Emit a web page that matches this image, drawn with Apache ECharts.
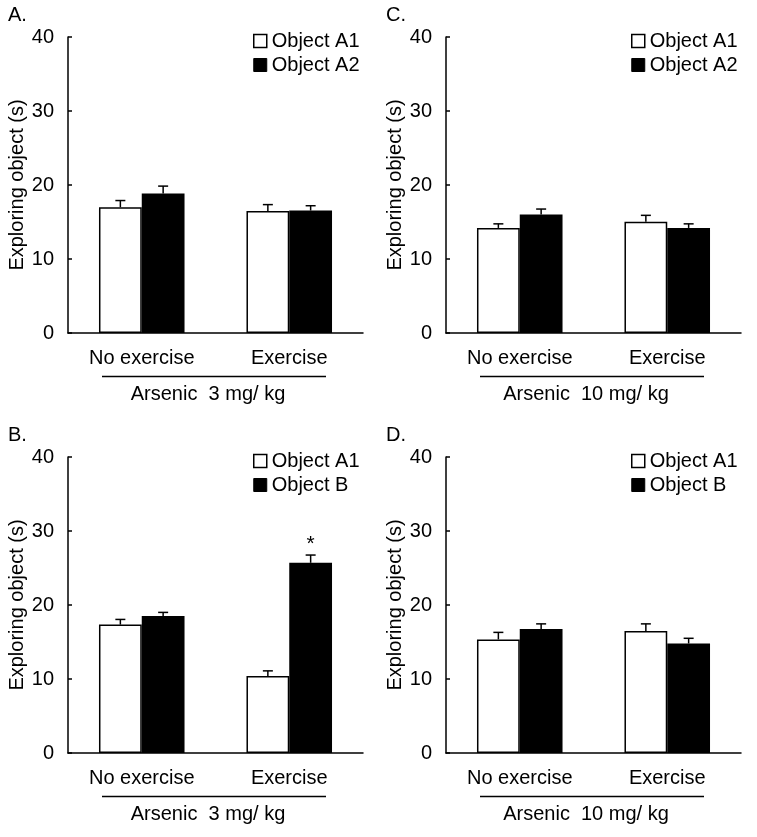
<!DOCTYPE html>
<html>
<head>
<meta charset="utf-8">
<script src="https://cdn.jsdelivr.net/npm/echarts@6/dist/echarts.min.js"></script>
<style>
  html, body { margin: 0; padding: 0; background: #fff; }
  #chart { width: 757px; height: 837px; }
</style>
</head>
<body>
<div id="chart"></div>
<script>
const categories = ["No exercise", "Exercise"];
const yTicks = [0, 10, 20, 30, 40];

// panel A: arsenic 3 mg/kg, training (A1 vs A2)
const aObjA1 = [17.0, 16.5];
const aObjA1Err = [0.9, 0.85];
const aObjA2 = [18.85, 16.55];
const aObjA2Err = [1.0, 0.65];

// panel C: arsenic 10 mg/kg, training
const cObjA1 = [14.2, 15.05];
const cObjA1Err = [0.55, 0.85];
const cObjA2 = [16.0, 14.2];
const cObjA2Err = [0.75, 0.55];

// panel B: arsenic 3 mg/kg, test (A1 vs B)
const bObjA1 = [17.35, 10.4];
const bObjA1Err = [0.7, 0.7];
const bObjB = [18.5, 25.7];
const bObjBErr = [0.5, 1.05];

// panel D: arsenic 10 mg/kg, test
const dObjA1 = [15.35, 16.5];
const dObjA1Err = [0.95, 0.95];
const dObjB = [16.75, 14.8];
const dObjBErr = [0.7, 0.7];

const FONT = "Liberation Sans";
const GAP = 0.42;

const panels = [
  { letter: "A.", dose: "Arsenic  3 mg/ kg", left: 68, top: 37, names: ["Object A1", "Object A2"],
    v1: aObjA1, e1: aObjA1Err, v2: aObjA2, e2: aObjA2Err, star: null },
  { letter: "C.", dose: "Arsenic  10 mg/ kg", left: 446, top: 37, names: ["Object A1", "Object A2"],
    v1: cObjA1, e1: cObjA1Err, v2: cObjA2, e2: cObjA2Err, star: null },
  { letter: "B.", dose: "Arsenic  3 mg/ kg", left: 68, top: 457, names: ["Object A1", "Object B"],
    v1: bObjA1, e1: bObjA1Err, v2: bObjB, e2: bObjBErr, star: 1 },
  { letter: "D.", dose: "Arsenic  10 mg/ kg", left: 446, top: 457, names: ["Object A1", "Object B"],
    v1: dObjA1, e1: dObjA1Err, v2: dObjB, e2: dObjBErr, star: null }
];

const grid = [], xAxis = [], yAxis = [], series = [], legend = [], graphic = [];

const errRender = (params, api) => {
  const cat = api.value(0);
  const val = api.value(1);
  const err = api.value(2);
  const side = api.value(3) === 0 ? -1 : 1;
  const band = api.size([1, 0])[0];
  const base = api.coord([cat, val]);
  const top = api.coord([cat, val + err]);
  const x = base[0] + side * band * (1 - GAP) / 4;
  const style = { stroke: "#000", lineWidth: 1.5 };
  return {
    type: "group",
    children: [
      { type: "line", shape: { x1: x, y1: base[1], x2: x, y2: top[1] }, style },
      { type: "line", shape: { x1: x - 5, y1: top[1], x2: x + 5, y2: top[1] }, style }
    ]
  };
};

panels.forEach((p, i) => {
  grid.push({ left: p.left, top: p.top, width: 295, height: 296 });
  xAxis.push({
    gridIndex: i,
    type: "category",
    data: categories,
    axisLine: { lineStyle: { color: "#000", width: 1.5 } },
    axisTick: { inside: true, length: 4, lineStyle: { color: "#000", width: 1.5 } },
    axisLabel: { color: "#000", fontSize: 20, fontFamily: FONT, margin: 15 }
  });
  yAxis.push({
    gridIndex: i,
    type: "value",
    min: 0,
    max: 40,
    interval: 10,
    name: "Exploring object (s)",
    nameLocation: "middle",
    nameGap: 39,
    nameTextStyle: { color: "#000", fontSize: 20, fontFamily: FONT },
    axisLine: { show: true, lineStyle: { color: "#000", width: 1.5 } },
    axisTick: { show: true, inside: true, length: 4, lineStyle: { color: "#000", width: 1.5 } },
    splitLine: { show: false },
    axisLabel: {
      color: "#000", fontSize: 20, fontFamily: FONT, margin: 14,
      formatter: (v) => (yTicks.includes(v) ? String(v) : "")
    }
  });

  const barStyle1 = { color: "#fff", borderColor: "#000", borderWidth: 1.5 };
  const barStyle2 = { color: "#000", borderColor: "#000", borderWidth: 1.5 };
  series.push({
    name: p.names[0], type: "bar", xAxisIndex: i, yAxisIndex: i,
    barGap: "0%", barCategoryGap: GAP * 100 + "%",
    itemStyle: barStyle1, data: p.v1, silent: true
  });
  series.push({
    name: p.names[1], type: "bar", xAxisIndex: i, yAxisIndex: i,
    barGap: "0%", barCategoryGap: GAP * 100 + "%",
    itemStyle: barStyle2,
    data: p.v2.map((v, k) => (k === p.star
      ? { value: v, label: { show: true, position: "top", distance: 8, formatter: "*",
          color: "#000", fontSize: 21, fontFamily: FONT } }
      : v)),
    silent: true
  });
  series.push({
    type: "custom", xAxisIndex: i, yAxisIndex: i, z: 5, silent: true,
    renderItem: errRender,
    encode: { x: 0, y: 1 },
    data: p.v1.map((v, k) => [k, v, p.e1[k], 0]).concat(p.v2.map((v, k) => [k, v, p.e2[k], 1]))
  });

  legend.push({
    orient: "vertical",
    left: p.left + 180,
    top: p.top - 11,
    itemWidth: 13,
    itemHeight: 13,
    itemGap: 4,
    selectedMode: false,
    textStyle: { color: "#000", fontSize: 20, fontFamily: FONT, lineHeight: 20 },
    data: [
      { name: p.names[0], icon: "rect", itemStyle: { color: "#fff", borderColor: "#000", borderWidth: 1.5 } },
      { name: p.names[1], icon: "rect", itemStyle: { color: "#000", borderColor: "#000", borderWidth: 1 } }
    ]
  });

  graphic.push({
    type: "text", left: p.left - 60, top: p.top - 32,
    style: { text: p.letter, fill: "#000", font: "20px " + FONT }
  });
  graphic.push({
    type: "line",
    shape: { x1: p.left + 34, y1: p.top + 339.5, x2: p.left + 258, y2: p.top + 339.5 },
    style: { stroke: "#000", lineWidth: 1.5 }
  });
  graphic.push({
    type: "text", x: p.left + 140, y: p.top + 357,
    style: { text: p.dose, fill: "#000", font: "20px " + FONT, align: "center", verticalAlign: "middle" }
  });
});

const chart = echarts.init(document.getElementById("chart"));
chart.setOption({
  animation: false,
  backgroundColor: "#fff",
  textStyle: { fontFamily: FONT },
  grid, xAxis, yAxis, series, legend, graphic
});
</script>
</body>
</html>
